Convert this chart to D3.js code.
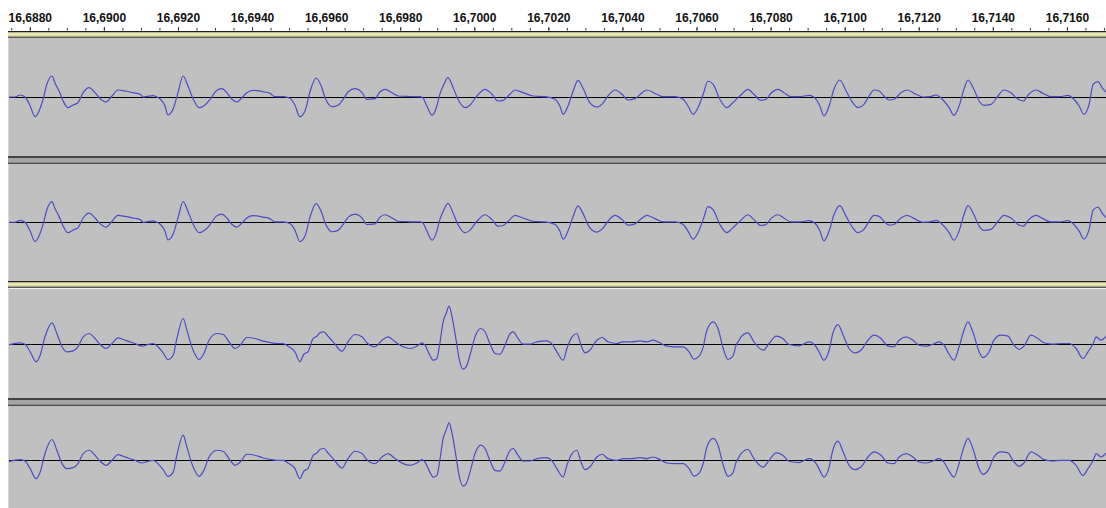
<!DOCTYPE html>
<html>
<head>
<meta charset="utf-8">
<script src="https://cdn.jsdelivr.net/npm/d3@7"></script>
<style>
  body { margin: 0; background: #fff; }
  svg { display: block; }
</style>
</head>
<body>
<svg id="chart" width="1106" height="508"></svg>
<script>
// times are ms after 16.687 s, amplitudes are sample values (-1..1)
const startSec = 16.687;

// ruler: labelled ticks every 2 ms, small ticks every 0.5 ms
const majorTicks = [16.688, 16.690, 16.692, 16.694, 16.696, 16.698, 16.700,
  16.702, 16.704, 16.706, 16.708, 16.710, 16.712, 16.714, 16.716];

// upper stereo track (both channels look the same)
const waveA = [
  [0.41, 0], [0.60, 0], [0.74, 0.033], [0.87, 0], [1.01, -0.15], [1.14, -0.328], [1.25, -0.233],
  [1.36, -0.033], [1.46, 0.212], [1.60, 0.35], [1.68, 0.233], [1.79, 0.10], [1.90, -0.067],
  [2.03, -0.178], [2.17, -0.133], [2.30, -0.095], [2.44, 0.072], [2.60, 0.155], [2.76, 0.072],
  [2.90, -0.028], [3.06, -0.083], [3.22, 0.017], [3.38, 0.117], [3.57, 0.10], [3.79, 0.072],
  [3.98, 0.045], [4.06, 0], [4.16, 0.008], [4.33, 0.022], [4.43, 0], [4.52, -0.033],
  [4.65, -0.15], [4.73, -0.30], [4.87, -0.20], [5.00, 0.072], [5.14, 0.35], [5.27, 0.183],
  [5.41, -0.033], [5.57, -0.178], [5.73, -0.133], [5.87, -0.038], [6.03, 0.10], [6.19, 0.138],
  [6.32, 0.072], [6.46, -0.038], [6.59, -0.083], [6.73, -0.012], [6.86, 0.072], [7.03, 0.112],
  [7.30, 0.088], [7.48, 0.062], [7.62, 0.005], [7.84, 0.008], [8.02, -0.022], [8.16, -0.138],
  [8.29, -0.328], [8.43, -0.233], [8.57, 0.10], [8.73, 0.317], [8.86, 0.195], [8.99, -0.038],
  [9.16, -0.162], [9.32, -0.138], [9.46, -0.038], [9.59, 0.083], [9.78, 0.138], [9.97, 0.072],
  [10.10, -0.038], [10.32, -0.028], [10.45, 0.083], [10.59, 0.128], [10.78, 0.072], [10.94, 0.017],
  [11.26, 0.008], [11.53, 0.005], [11.61, -0.012], [11.72, -0.15], [11.86, -0.305], [11.99, -0.15],
  [12.07, 0.045], [12.18, 0.212], [12.29, 0.322], [12.43, 0.155], [12.56, -0.038], [12.75, -0.178],
  [12.88, -0.138], [13.07, 0.017], [13.29, 0.128], [13.48, 0.045], [13.64, -0.067], [13.78, -0.055],
  [13.96, 0.045], [14.10, 0.117], [14.32, 0.072], [14.59, 0.017], [14.91, 0.005], [15.18, -0.038],
  [15.31, -0.15], [15.40, -0.288], [15.53, -0.15], [15.67, 0.10], [15.80, 0.278], [15.93, 0.155],
  [16.12, -0.095], [16.31, -0.167], [16.47, -0.105], [16.61, 0.017], [16.80, 0.117], [16.99, 0.045],
  [17.15, -0.05], [17.34, -0.028], [17.53, 0.072], [17.66, 0.117], [17.93, 0.045], [18.10, 0.005],
  [18.42, 0.005], [18.64, -0.038], [18.77, -0.15], [18.91, -0.288], [19.04, -0.178], [19.18, 0.045],
  [19.31, 0.267], [19.45, 0.212], [19.63, -0.038], [19.82, -0.178], [19.98, -0.095], [20.17, 0.017],
  [20.39, 0.128], [20.55, 0.045], [20.74, -0.055], [20.88, -0.038], [21.01, 0.062], [21.20, 0.128],
  [21.36, 0.072], [21.55, 0.005], [21.79, 0.005], [22.04, 0.028], [22.23, -0.038], [22.33, -0.15],
  [22.44, -0.317], [22.58, -0.15], [22.71, 0.128], [22.87, 0.283], [23.04, 0.10], [23.22, -0.095],
  [23.36, -0.178], [23.52, -0.122], [23.66, 0.017], [23.79, 0.117], [23.93, 0.10], [24.06, 0.017],
  [24.20, -0.05], [24.33, -0.038], [24.52, 0.072], [24.68, 0.117], [24.93, 0.045], [25.11, 0],
  [25.30, 0.005], [25.47, 0.033], [25.57, 0], [25.68, -0.067], [25.82, -0.178], [25.95, -0.305],
  [26.09, -0.15], [26.22, 0.128], [26.33, 0.283], [26.49, 0.128], [26.63, -0.067], [26.76, -0.138],
  [26.95, -0.122], [27.14, 0.017], [27.30, 0.117], [27.49, 0.072], [27.68, -0.038], [27.82, -0.067],
  [27.97, 0.045], [28.17, 0.117], [28.35, 0.062], [28.57, 0.005], [28.81, 0.005], [29.03, 0.028],
  [29.19, -0.038], [29.33, -0.15], [29.46, -0.288], [29.60, -0.122], [29.71, 0.212], [29.84, 0.255],
  [29.97, 0.138], [30.11, 0.05]
];

// lower stereo track (both channels look the same)
const waveB = [
  [0.41, -0.031], [0.74, 0.013], [0.87, -0.013], [1.01, -0.151], [1.17, -0.333], [1.28, -0.213],
  [1.41, 0.122], [1.60, 0.376], [1.73, 0.182], [1.87, -0.06], [2.00, -0.151], [2.17, -0.133],
  [2.30, -0.06], [2.44, 0.122], [2.60, 0.182], [2.76, 0.091], [2.90, -0.018], [3.06, -0.091],
  [3.22, 0], [3.38, 0.104], [3.52, 0.073], [3.65, 0.042], [3.84, 0], [4.03, -0.049],
  [4.19, -0.018], [4.33, 0], [4.46, -0.06], [4.60, -0.169], [4.73, -0.291], [4.87, -0.213],
  [4.97, 0.091], [5.14, 0.455], [5.24, 0.242], [5.41, -0.122], [5.57, -0.291], [5.70, -0.182],
  [5.84, 0.06], [6.05, 0.182], [6.22, 0.164], [6.41, 0], [6.54, -0.091], [6.68, -0.031],
  [6.86, 0.109], [7.08, 0.091], [7.30, 0.042], [7.48, 0.018], [7.67, 0], [7.84, 0],
  [7.97, -0.049], [8.16, -0.151], [8.29, -0.333], [8.40, -0.195], [8.51, -0.151], [8.65, 0.091],
  [8.75, 0.133], [8.83, 0.195], [8.94, 0.213], [9.05, 0.133], [9.19, 0.031], [9.43, -0.14],
  [9.59, 0.031], [9.78, 0.164], [9.97, 0.122], [10.10, 0.013], [10.18, -0.031], [10.32, -0.06],
  [10.51, 0.06], [10.67, 0.122], [10.86, 0.031], [11.08, -0.06], [11.26, -0.091], [11.45, -0.049],
  [11.59, 0.013], [11.67, -0.031], [11.80, -0.213], [11.89, -0.304], [11.99, -0.273], [12.07, 0],
  [12.16, 0.395], [12.24, 0.545], [12.32, 0.678], [12.40, 0.485], [12.51, 0.06], [12.59, -0.273],
  [12.70, -0.467], [12.80, -0.395], [12.91, -0.151], [13.02, 0.122], [13.18, 0.273], [13.29, 0.213],
  [13.42, 0], [13.56, -0.182], [13.69, -0.195], [13.83, -0.031], [13.94, 0.151], [14.05, 0.213],
  [14.18, 0.091], [14.32, -0.013],
  [14.50, -0.013], [14.69, 0.031], [14.96, 0.049], [15.10, -0.013], [15.23, -0.151], [15.40, -0.304],
  [15.50, -0.091], [15.64, 0.122], [15.77, 0.182], [15.88, -0.031], [15.99, -0.169], [16.12, -0.122],
  [16.31, 0.06], [16.45, 0.109], [16.61, 0.031], [16.85, 0], [17.01, 0.031], [17.26, 0.031],
  [17.47, 0.049], [17.66, 0.031], [17.83, 0.06], [18.01, 0.013], [18.20, -0.049], [18.42, -0.06],
  [18.64, -0.06], [18.80, -0.151], [18.93, -0.285], [19.07, -0.231], [19.18, -0.06], [19.28, 0.242],
  [19.45, 0.395], [19.58, 0.273], [19.71, -0.06], [19.85, -0.291], [19.98, -0.231], [20.07, -0.031],
  [20.15, 0.06], [20.20, 0.122], [20.39, 0.195], [20.55, 0.031], [20.80, -0.122], [20.96, 0],
  [21.15, 0.133], [21.33, 0.091], [21.50, -0.018], [21.77, -0.042], [22.04, 0.031], [22.23, -0.06],
  [22.33, -0.182], [22.44, -0.304], [22.58, -0.122], [22.68, 0.182], [22.82, 0.345], [22.96, 0.151],
  [23.12, -0.091], [23.28, -0.169], [23.44, -0.122], [23.63, 0.06], [23.79, 0.151], [23.98, 0.091],
  [24.17, -0.049], [24.33, -0.06], [24.47, 0.06], [24.66, 0.122], [24.84, 0.06], [25.01, -0.031],
  [25.20, -0.049], [25.38, -0.013], [25.55, 0.031], [25.68, -0.031], [25.82, -0.195], [25.95, -0.304],
  [26.09, -0.06], [26.22, 0.242], [26.33, 0.395], [26.46, 0.213], [26.63, -0.151], [26.73, -0.255],
  [26.90, -0.151], [27.03, 0.06], [27.22, 0.151], [27.41, 0.133], [27.54, 0], [27.71, -0.109],
  [27.84, -0.049], [28.03, 0.151], [28.22, 0.091], [28.38, 0.013], [28.62, -0.013], [28.84, 0],
  [29.06, 0], [29.25, -0.091], [29.43, -0.273], [29.57, -0.151], [29.71, 0], [29.79, 0.122],
  [29.92, 0.06], [30.06, 0.133]
];

const width = 1106, height = 508, left = 8;

const x = d3.scaleLinear()
  .domain([16.688, 16.716])
  .range([29.8, 1066.9]);

const svg = d3.select('#chart');

// four channels: two stereo pairs
const tracks = [
  { top: 37, bottom: 157, wave: waveA },
  { top: 163.5, bottom: 281, wave: waveA },
  { top: 288.5, bottom: 398.5, wave: waveB },
  { top: 405, bottom: 515.6, wave: waveB }
];

const defs = svg.append('defs');

tracks.forEach((t, i) => {
  const y = d3.scaleLinear()
    .domain([-1, 1])
    .range([t.bottom, t.top]);

  defs.append('clipPath').attr('id', 'clip' + i)
    .append('rect')
    .attr('x', left).attr('y', t.top)
    .attr('width', width - left).attr('height', t.bottom - t.top);

  const g = svg.append('g').attr('clip-path', 'url(#clip' + i + ')');

  g.append('rect')
    .attr('x', left).attr('y', t.top)
    .attr('width', width - left).attr('height', t.bottom - t.top)
    .attr('fill', '#c0c0c0');

  g.append('line')
    .attr('x1', left).attr('x2', width)
    .attr('y1', Math.round(y(0)) + 0.5).attr('y2', Math.round(y(0)) + 0.5)
    .attr('stroke', '#000').attr('stroke-width', 1);

  const line = d3.line()
    .x(d => x(startSec + d[0] / 1000))
    .y(d => y(d[1]))
    .curve(d3.curveMonotoneX);

  g.append('path')
    .datum(t.wave)
    .attr('d', line)
    .attr('fill', 'none')
    .attr('stroke', '#4c4cc6')
    .attr('stroke-width', 1.2)
    .attr('stroke-linejoin', 'round');
});

// light bevel down the left edge of the tracks
svg.append('line')
  .attr('x1', left + 0.5).attr('x2', left + 0.5)
  .attr('y1', 37).attr('y2', height)
  .attr('stroke', '#d6d6d6');

// separators inside a stereo pair
[156, 398].forEach(yy => {
  svg.append('rect').attr('x', left).attr('y', yy).attr('width', width - left).attr('height', 2)
    .attr('fill', '#444');
  svg.append('rect').attr('x', left).attr('y', yy + 2).attr('width', width - left).attr('height', 4.5)
    .attr('fill', '#a4a4a4');
  svg.append('rect').attr('x', left).attr('y', yy + 6.5).attr('width', width - left).attr('height', 1.5)
    .attr('fill', '#4a4a4a');
});

// yellow focus border above each pair
[31, 281].forEach(yy => {
  svg.append('rect').attr('x', left).attr('y', yy).attr('width', width - left).attr('height', 1.5)
    .attr('fill', '#1e1e1e');
  svg.append('rect').attr('x', left).attr('y', yy + 1.5).attr('width', width - left).attr('height', 4)
    .attr('fill', '#dcdc9c');
  svg.append('rect').attr('x', left).attr('y', yy + 2.5).attr('width', width - left).attr('height', 1.2)
    .attr('fill', '#eeeec4');
  svg.append('rect').attr('x', left).attr('y', yy + 5.5).attr('width', width - left).attr('height', 1.5)
    .attr('fill', '#5a5a5a');
});

// time ruler
const comma = d3.formatLocale({ decimal: ',', thousands: '.', grouping: [3], currency: ['', ''] });
const fmt = comma.format('.4f');

const minorTicks = d3.range(16.6875, 16.7175, 0.0005);

const minorAxis = d3.axisTop(x)
  .tickValues(minorTicks)
  .tickSize(2.5)
  .tickFormat('');

const majorAxis = d3.axisTop(x)
  .tickValues(majorTicks)
  .tickSize(3.5)
  .tickPadding(5.5)
  .tickFormat(fmt);

const gMinor = svg.append('g').attr('transform', 'translate(0,30.5)').call(minorAxis);
const gMajor = svg.append('g').attr('transform', 'translate(0,30.5)').call(majorAxis);

[gMinor, gMajor].forEach(g => {
  g.select('.domain').remove();
  g.selectAll('.tick line').attr('stroke', '#333');
});

gMajor.selectAll('.tick text')
  .attr('fill', '#111')
  .style('font-family', '"Liberation Sans", Arial, sans-serif')
  .style('font-size', '12px')
  .style('font-weight', 'bold');
</script>
</body>
</html>
